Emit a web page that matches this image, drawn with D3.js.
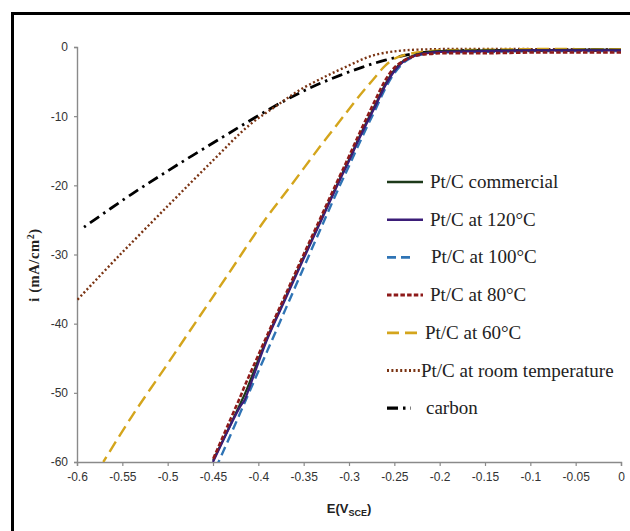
<!DOCTYPE html>
<html>
<head>
<meta charset="utf-8">
<script src="https://cdn.jsdelivr.net/npm/d3@7"></script>
<style>
  body { margin: 0; background: #fff; }
  svg { display: block; }
  .tick text { font-family: "Liberation Sans", Arial, sans-serif; font-size: 12px; fill: #333; }
  .legend text { font-family: "Liberation Serif", serif; font-size: 19px; fill: #222; }
</style>
</head>
<body>
<div id="chart"></div>
<script>
const width = 630;
const height = 531;

// potential (V vs SCE), shared by the four Pt/C curves
const ptPotential = [0, -0.05, -0.1, -0.15, -0.2, -0.21, -0.22, -0.23, -0.24, -0.25, -0.26, -0.27, -0.28, -0.29, -0.30, -0.31, -0.33, -0.35, -0.37, -0.39, -0.41, -0.415, -0.42, -0.43, -0.45];
const iCommercial = [-0.4, -0.4, -0.5, -0.5, -0.6, -0.7, -0.9, -1.3, -2.0, -3.3, -5.4, -8.1, -10.7, -13.4, -16.3, -19.0, -24.7, -30.4, -36.2, -42.0, -48.6, -50.2, -51.6, -54.4, -59.8];
const i120 = [-0.5, -0.5, -0.5, -0.6, -0.7, -0.8, -1.0, -1.4, -2.1, -3.5, -5.6, -8.3, -10.9, -13.6, -16.5, -19.2, -24.9, -30.6, -36.4, -42.2, -49.3, -51.0, -52.0, -54.5, -60.0];
const i100 = [-0.6, -0.6, -0.6, -0.7, -0.8, -0.9, -1.1, -1.5, -2.3, -3.8, -6.0, -8.8, -11.5, -14.3, -17.2, -20.0, -25.9, -31.9, -37.9, -43.9, -49.9, -51.4, -52.9, -55.9, -61.8];
const i80 = [-0.8, -0.8, -0.8, -0.9, -0.9, -1.0, -1.1, -1.4, -2.0, -3.0, -4.8, -7.4, -10.1, -12.9, -15.8, -18.6, -24.3, -30.0, -35.8, -41.6, -47.5, -49.0, -50.6, -53.6, -59.6];

const potential60 = [0, -0.05, -0.1, -0.15, -0.2, -0.22, -0.23, -0.24, -0.25, -0.26, -0.274, -0.29, -0.303, -0.332, -0.365, -0.395, -0.435, -0.465, -0.50, -0.54, -0.571];
const i60 = [-0.3, -0.3, -0.3, -0.4, -0.5, -0.7, -0.9, -1.2, -1.7, -2.7, -4.8, -7.3, -9.5, -14.4, -20.2, -25.4, -33.2, -39.0, -45.8, -53.5, -60.0];

const potentialRoom = [0, -0.1, -0.2, -0.24, -0.263, -0.28, -0.299, -0.325, -0.354, -0.38, -0.41, -0.45, -0.50, -0.556, -0.60];
const iRoom = [-0.3, -0.3, -0.3, -0.5, -0.9, -1.5, -2.6, -4.2, -6.2, -8.5, -11.3, -16.4, -23.0, -30.5, -36.6];

const potentialCarbon = [0, -0.1, -0.2, -0.23, -0.26, -0.285, -0.31, -0.336, -0.36, -0.384, -0.41, -0.439, -0.49, -0.54, -0.594];
const iCarbon = [-0.5, -0.5, -0.6, -1.0, -1.9, -2.9, -4.1, -5.5, -7.0, -8.7, -10.7, -13.0, -17.1, -21.3, -26.2];

const xTicks = [-0.6, -0.55, -0.5, -0.45, -0.4, -0.35, -0.3, -0.25, -0.2, -0.15, -0.1, -0.05, 0];
const yTicks = [0, -10, -20, -30, -40, -50, -60];

const seriesNames = ["Pt/C commercial", "Pt/C at 120°C", "Pt/C at 100°C", "Pt/C at 80°C", "Pt/C at 60°C", "Pt/C at room temperature", "carbon"];

const zip = (xs, ys) => xs.map((x, k) => ({ e: x, i: ys[k] }));

// drawing order: back to front
const series = [
    { name: seriesNames[6], pts: zip(potentialCarbon, iCarbon), color: "#000", dash: "11,5,2.5,5", w: 2.8 },
    { name: seriesNames[5], pts: zip(potentialRoom, iRoom), color: "#7a3312", dash: "2,2.4", w: 2.4 },
    { name: seriesNames[4], pts: zip(potential60, i60), color: "#d4a51c", dash: "12,6", w: 2.4 },
    { name: seriesNames[2], pts: zip(ptPotential, i100), color: "#2f74b5", dash: "9,5", w: 2.4 },
    { name: seriesNames[0], pts: zip(ptPotential, iCommercial), color: "#1d3a1a", dash: null, w: 2.2 },
    { name: seriesNames[1], pts: zip(ptPotential, i120), color: "#3b1d78", dash: null, w: 2.2 },
    { name: seriesNames[3], pts: zip(ptPotential, i80), color: "#8e1a1a", dash: "4.5,2.2", w: 2.6 }
];

const margin = { left: 77, right: 9, top: 47, bottom: 69 };

const svg = d3.select("#chart").append("svg")
    .attr("width", width)
    .attr("height", height);

// outer frame (cut off on the right and bottom in the source)
svg.append("rect")
    .attr("x", 12.5).attr("y", 13.5)
    .attr("width", 660).attr("height", 560)
    .attr("fill", "none")
    .attr("stroke", "#000")
    .attr("stroke-width", 3);

const x = d3.scaleLinear().domain([-0.6, 0]).range([margin.left, width - margin.right]);
const y = d3.scaleLinear().domain([0, -60]).range([margin.top, height - margin.bottom]);

svg.append("defs").append("clipPath").attr("id", "plot")
    .append("rect")
    .attr("x", x(-0.6)).attr("y", y(0) - 5)
    .attr("width", x(0) - x(-0.6) + 2).attr("height", y(-60) - y(0) + 5);

// axes - plain hyphen minus like the source
const fmt = d => String(+d.toFixed(2));
const xAxis = svg.append("g")
    .attr("transform", `translate(0,${y(-60)})`)
    .call(d3.axisBottom(x).tickValues(xTicks).tickSize(4).tickPadding(6).tickFormat(fmt));
const yAxis = svg.append("g")
    .attr("transform", `translate(${x(-0.6)},0)`)
    .call(d3.axisLeft(y).tickValues(yTicks).tickSize(3).tickPadding(6).tickFormat(fmt));

[xAxis, yAxis].forEach(g => {
    g.select(".domain").attr("stroke", "#8a8a8a").attr("stroke-width", 1.4);
    g.selectAll(".tick line").attr("stroke", "#8a8a8a").attr("stroke-width", 1.2);
});

// axis titles
const xt = svg.append("text")
    .attr("x", 349).attr("y", 513)
    .attr("text-anchor", "middle")
    .style("font-family", "'Liberation Sans', Arial, sans-serif")
    .style("font-weight", "bold")
    .style("font-size", "13px")
    .attr("fill", "#222");
xt.append("tspan").text("E(V");
xt.append("tspan").attr("dy", 3).style("font-size", "9px").text("SCE");
xt.append("tspan").attr("dy", -3).text(")");

const yt = svg.append("text")
    .attr("transform", "translate(39,265) rotate(-90)")
    .attr("text-anchor", "middle")
    .style("font-family", "'Liberation Serif', serif")
    .style("font-weight", "bold")
    .style("font-size", "14.5px")
    .style("letter-spacing", "0.6px")
    .attr("fill", "#222");
yt.append("tspan").text("i  (mA/cm");
yt.append("tspan").attr("dy", -5).style("font-size", "10px").text("2");
yt.append("tspan").attr("dy", 5).text(")");

// curves
const line = d3.line()
    .x(d => x(d.e))
    .y(d => y(d.i))
    .curve(d3.curveCatmullRom.alpha(0.5));

svg.append("g").attr("clip-path", "url(#plot)")
    .selectAll("path")
    .data(series)
    .enter().append("path")
    .attr("d", d => line(d.pts))
    .attr("fill", "none")
    .attr("stroke", d => d.color)
    .attr("stroke-width", d => d.w)
    .attr("stroke-dasharray", d => d.dash);

// legend
const byName = new Map(series.map(s => [s.name, s]));
const legendLayout = [
    { len: 36, tx: 430 },
    { len: 36, tx: 430 },
    { len: 28, tx: 431 },
    { len: 36, tx: 430 },
    { len: 31, tx: 425 },
    { len: 33, tx: 421 },
    { len: 24, tx: 426 }
];

const legend = svg.append("g").attr("class", "legend");
seriesNames.forEach((name, k) => {
    const s = byName.get(name);
    const ly = 182 + k * 37.7;
    legend.append("line")
        .attr("x1", 387).attr("x2", 387 + legendLayout[k].len)
        .attr("y1", ly).attr("y2", ly)
        .attr("stroke", s.color)
        .attr("stroke-width", s.w + 0.4)
        .attr("stroke-dasharray", s.dash);
    legend.append("text")
        .attr("x", legendLayout[k].tx)
        .attr("y", ly + 6)
        .text(name);
});
</script>
</body>
</html>
